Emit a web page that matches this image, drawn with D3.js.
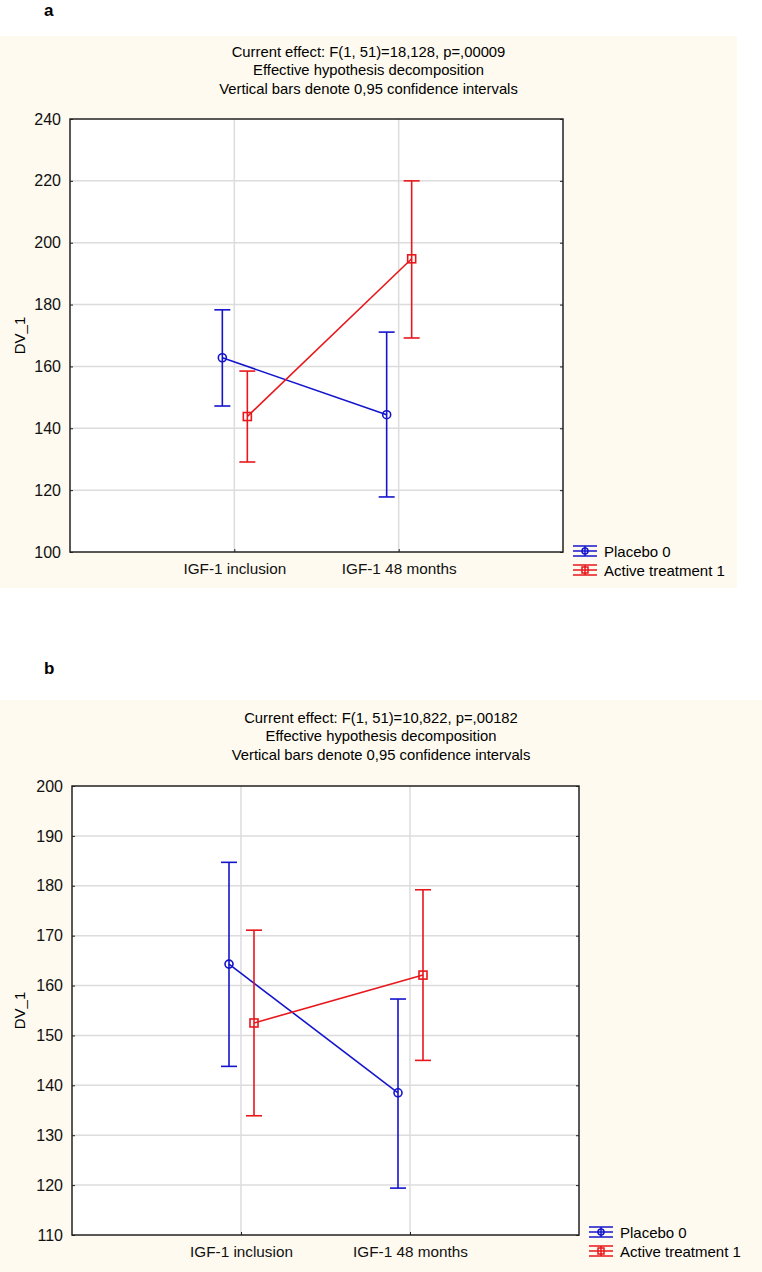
<!DOCTYPE html>
<html>
<head>
<meta charset="utf-8">
<script src="https://cdn.jsdelivr.net/npm/d3@7"></script>
<style>
  body { margin: 0; background: #fff; }
  svg { display: block; font-family: "Liberation Sans", Arial, sans-serif; }
</style>
</head>
<body>
<svg id="fig" width="762" height="1272"></svg>
<script>
// categories and groups shared by both panels
var categories = ['IGF-1 inclusion', 'IGF-1 48 months'];
var groups = ['Placebo 0', 'Active treatment 1'];

// panel a
var aTitle = ['Current effect: F(1, 51)=18,128, p=,00009',
              'Effective hypothesis decomposition',
              'Vertical bars denote 0,95 confidence intervals'];
var aTicks = [100, 120, 140, 160, 180, 200, 220, 240];
var aPlaceboMean = [162.8, 144.4];
var aPlaceboLow  = [147.2, 117.8];
var aPlaceboHigh = [178.3, 171.1];
var aActiveMean  = [143.8, 194.8];
var aActiveLow   = [129.1, 169.2];
var aActiveHigh  = [158.5, 220.0];

// panel b
var bTitle = ['Current effect: F(1, 51)=10,822, p=,00182',
              'Effective hypothesis decomposition',
              'Vertical bars denote 0,95 confidence intervals'];
var bTicks = [110, 120, 130, 140, 150, 160, 170, 180, 190, 200];
var bPlaceboMean = [164.3, 138.5];
var bPlaceboLow  = [143.8, 119.4];
var bPlaceboHigh = [184.7, 157.3];
var bActiveMean  = [152.5, 162.1];
var bActiveLow   = [133.9, 145.0];
var bActiveHigh  = [171.1, 179.2];

var BLUE = '#1414cc', RED = '#e8171c', BEIGE = '#fefaef', GRID = '#dcdcdc';

var svg = d3.select('#fig');

function drawPanel(p) {
    var g = svg.append('g');

    // beige background
    g.append('rect')
        .attr('x', 0).attr('y', p.bgTop)
        .attr('width', p.bgWidth).attr('height', p.bgHeight)
        .attr('fill', BEIGE);

    // panel letter
    g.append('text')
        .attr('x', 44).attr('y', p.letterY)
        .style('font-weight', 'bold').style('font-size', '17px')
        .text(p.letter);

    // title lines
    g.selectAll('.title').data(p.title).enter().append('text')
        .attr('x', p.bgWidth / 2)
        .attr('y', function (d, i) { return p.titleY + i * 18.3; })
        .attr('text-anchor', 'middle')
        .style('font-size', '14.8px')
        .text(function (d) { return d; });

    var x = d3.scalePoint().domain(categories).range([p.left, p.right]).padding(1);
    var y = d3.scaleLinear().domain([p.ticks[0], p.ticks[p.ticks.length - 1]]).range([p.bottom, p.top]);

    // plot area
    g.append('rect')
        .attr('x', p.left).attr('y', p.top)
        .attr('width', p.right - p.left).attr('height', p.bottom - p.top)
        .attr('fill', '#fff');

    // grid
    g.selectAll('.hgrid').data(p.ticks.slice(1, -1)).enter().append('line')
        .attr('x1', p.left).attr('x2', p.right)
        .attr('y1', function (d) { return y(d); }).attr('y2', function (d) { return y(d); })
        .attr('stroke', GRID).attr('stroke-width', 1.5);
    g.selectAll('.vgrid').data(categories).enter().append('line')
        .attr('x1', function (d) { return x(d); }).attr('x2', function (d) { return x(d); })
        .attr('y1', p.top).attr('y2', p.bottom)
        .attr('stroke', GRID).attr('stroke-width', 1.5);

    // axes with inward ticks
    var yl = g.append('g').attr('transform', 'translate(' + p.left + ',0)')
        .call(d3.axisLeft(y).tickValues(p.ticks).tickSizeInner(-3).tickSizeOuter(0).tickPadding(9));
    var yr = g.append('g').attr('transform', 'translate(' + p.right + ',0)')
        .call(d3.axisRight(y).tickValues(p.ticks).tickSizeInner(-3).tickSizeOuter(0).tickFormat(''));
    var xb = g.append('g').attr('transform', 'translate(0,' + p.bottom + ')')
        .call(d3.axisBottom(x).tickSizeInner(-3).tickSizeOuter(0).tickPadding(11));
    [yl, yr, xb].forEach(function (a) {
        a.select('.domain').remove();
        a.selectAll('line').attr('stroke', '#222');
        a.selectAll('text').style('font-size', '16px').style('font-family', '"Liberation Sans", Arial, sans-serif').attr('fill', '#111');
    });
    xb.selectAll('text').style('font-size', '15.3px');

    // frame
    g.append('rect')
        .attr('x', p.left).attr('y', p.top)
        .attr('width', p.right - p.left).attr('height', p.bottom - p.top)
        .attr('fill', 'none').attr('stroke', '#222').attr('stroke-width', 1.5);

    // y label
    g.append('text')
        .attr('transform', 'translate(' + 25 + ',' + ((p.top + p.bottom) / 2) + ') rotate(-90)')
        .attr('text-anchor', 'middle')
        .style('font-size', '15px')
        .text('DV_1');

    // series
    var series = [
        { name: groups[0], color: BLUE, dx: -12, mean: p.placebo[0], low: p.placebo[1], high: p.placebo[2], shape: 'circle' },
        { name: groups[1], color: RED,  dx: 13,  mean: p.active[0],  low: p.active[1],  high: p.active[2],  shape: 'square' }
    ];

    series.forEach(function (s) {
        var pts = categories.map(function (c, i) {
            return { x: x(c) + s.dx, m: s.mean[i], lo: s.low[i], hi: s.high[i] };
        });
        var sg = g.append('g').attr('stroke', s.color).attr('fill', 'none').attr('stroke-width', 1.6);
        // error bars
        pts.forEach(function (d) {
            sg.append('line').attr('x1', d.x).attr('x2', d.x).attr('y1', y(d.lo)).attr('y2', y(d.hi));
            sg.append('line').attr('x1', d.x - 8).attr('x2', d.x + 8).attr('y1', y(d.lo)).attr('y2', y(d.lo));
            sg.append('line').attr('x1', d.x - 8).attr('x2', d.x + 8).attr('y1', y(d.hi)).attr('y2', y(d.hi));
        });
        // mean line
        sg.append('path')
            .attr('d', d3.line().x(function (d) { return d.x; }).y(function (d) { return y(d.m); })(pts));
        // markers
        pts.forEach(function (d) {
            if (s.shape === 'circle') {
                sg.append('circle').attr('cx', d.x).attr('cy', y(d.m)).attr('r', 4);
            } else {
                sg.append('rect').attr('x', d.x - 4).attr('y', y(d.m) - 4).attr('width', 8).attr('height', 8);
            }
        });
    });

    // legend
    series.forEach(function (s, i) {
        var cy = p.legendY + i * 19;
        var lx = p.right + 10;
        var lg = g.append('g').attr('stroke', s.color).attr('fill', 'none').attr('stroke-width', 1.5);
        [-5, 0, 5].forEach(function (o) {
            lg.append('line').attr('x1', lx).attr('x2', lx + 24).attr('y1', cy + o).attr('y2', cy + o);
        });
        lg.append('line').attr('x1', lx + 12).attr('x2', lx + 12).attr('y1', cy - 5).attr('y2', cy + 5);
        if (s.shape === 'circle') {
            lg.append('circle').attr('cx', lx + 12).attr('cy', cy).attr('r', 3);
        } else {
            lg.append('rect').attr('x', lx + 9).attr('y', cy - 3).attr('width', 6).attr('height', 6);
        }
        g.append('text')
            .attr('x', lx + 31).attr('y', cy + 5.5)
            .style('font-size', '15px')
            .text(s.name);
    });
}

drawPanel({
    letter: 'a', letterY: 16,
    bgTop: 36, bgHeight: 552, bgWidth: 737,
    title: aTitle, titleY: 57,
    left: 70, right: 563, top: 119, bottom: 552,
    ticks: aTicks,
    placebo: [aPlaceboMean, aPlaceboLow, aPlaceboHigh],
    active: [aActiveMean, aActiveLow, aActiveHigh],
    legendY: 551
});

drawPanel({
    letter: 'b', letterY: 674,
    bgTop: 700, bgHeight: 572, bgWidth: 762,
    title: bTitle, titleY: 723,
    left: 72, right: 579, top: 786, bottom: 1235,
    ticks: bTicks,
    placebo: [bPlaceboMean, bPlaceboLow, bPlaceboHigh],
    active: [bActiveMean, bActiveLow, bActiveHigh],
    legendY: 1232
});
</script>
</body>
</html>
